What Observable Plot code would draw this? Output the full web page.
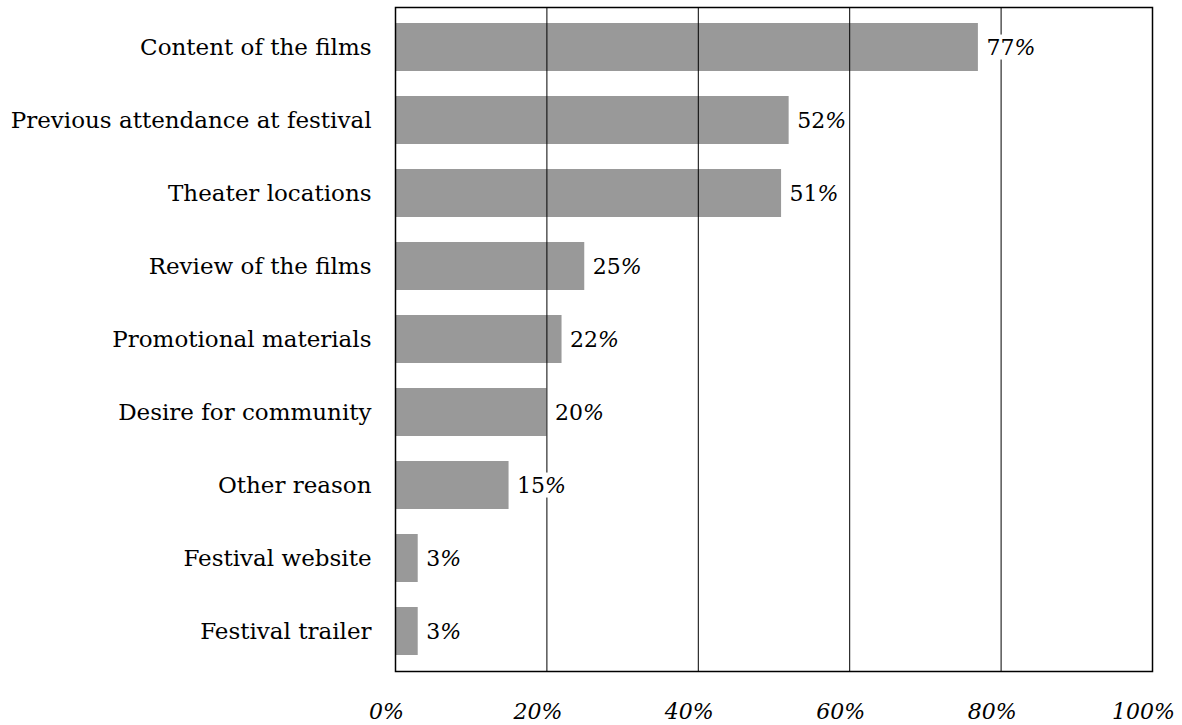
<!DOCTYPE html>
<html><head><meta charset="utf-8">
<script src="https://cdn.jsdelivr.net/npm/d3@7"></script>
<script src="https://cdn.jsdelivr.net/npm/@observablehq/plot@0.6"></script>
<style>body{margin:0;background:#fff} svg{display:block}</style>
</head><body><div id="chart"></div>
<script>
const categories = ["Content of the films","Previous attendance at festival","Theater locations","Review of the films","Promotional materials","Desire for community","Other reason","Festival website","Festival trailer"];
const values = [77,52,51,25,22,20,15,3,3];
const tickValues = [0,20,40,60,80,100];
const gridValues = [20,40,60,80];
const data = categories.map((c,i)=>({category:c, value:values[i]}));

const chart = Plot.plot({
  width:1182, height:725,
  marginLeft:395, marginRight:30, marginTop:7, marginBottom:54,
  style:{fontFamily:"'DejaVu Serif', serif", fontSize:"22px", color:"black", background:"white"},
  x:{domain:[0,100], ticks: tickValues},
  y:{domain:categories, paddingInner:0.34, paddingOuter:0.19, label:null},
  marks:[
    Plot.barX(data,{y:"category", x:"value", fill:"#999999"}),
    Plot.ruleX(gridValues,{stroke:"black", strokeWidth:1}),
    Plot.text(data,{y:"category", x:"value", text:d=>d.value+"%", textAnchor:"start", dx:8, fill:"black", fontSize:22}),
    Plot.frame({stroke:"black", strokeWidth:1.5}),
    Plot.axisX(tickValues,{tickSize:0, tickPadding:32, dx:-9, tickFormat:d=>d+"%", fontStyle:"italic", fontSize:22, label:null}),
    Plot.axisY({tickSize:0, tickPadding:24, fontSize:23, label:null})
  ]
});
document.getElementById("chart").append(chart);

// bar labels: upright digits, italic percent sign, white backing box
chart.querySelectorAll('g[aria-label="text"] text').forEach(t => {
  const s = t.textContent;
  const num = s.replace("%","");
  t.textContent = "";
  t.appendChild(document.createTextNode(num));
  const ts = document.createElementNS("http://www.w3.org/2000/svg","tspan");
  ts.setAttribute("font-style","italic");
  ts.textContent = "%";
  t.appendChild(ts);
  const b = t.getBBox();
  const r = document.createElementNS("http://www.w3.org/2000/svg","rect");
  r.setAttribute("x", b.x - 2);
  r.setAttribute("y", b.y);
  r.setAttribute("width", b.width + 4);
  r.setAttribute("height", b.height);
  r.setAttribute("fill", "white");
  if (t.getAttribute("transform")) r.setAttribute("transform", t.getAttribute("transform"));
  t.parentNode.insertBefore(r, t);
});
</script>
</body></html>
